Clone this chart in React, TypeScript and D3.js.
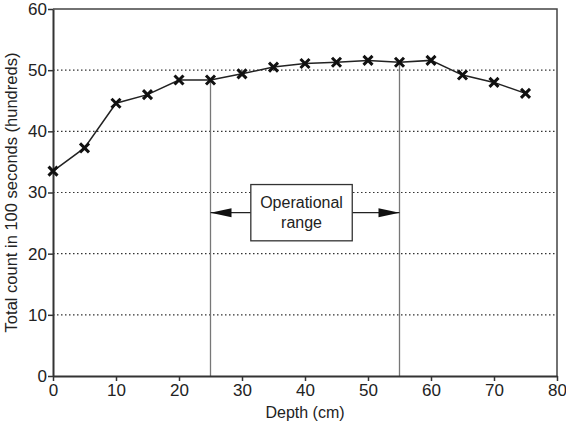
import React, { useRef, useEffect } from 'react';
import * as d3 from 'd3';

// depth (cm) vs total count in 100 s (hundreds)
const depths = [0, 5, 10, 15, 20, 25, 30, 35, 40, 45, 50, 55, 60, 65, 70, 75];
const counts = [33.5, 37.3, 44.6, 46.0, 48.4, 48.4, 49.4, 50.5, 51.1, 51.3, 51.6, 51.3, 51.6, 49.2, 48.0, 46.2];
const xTicks = [0, 10, 20, 30, 40, 50, 60, 70, 80];
const yTicks = [0, 10, 20, 30, 40, 50, 60];
const gridValues = [10, 20, 30, 40, 50];
const rangeBounds = [25, 55];
const rangeLabel = ['Operational', 'range'];
const arrowLevel = 26.7;
const boxX = [31.4, 47.5];
const boxY = [22.1, 31.3];

const W = 566;
const H = 424;

const App = () => {
  const ref = useRef<SVGSVGElement>(null);

  useEffect(() => {
    const svg = d3.select(ref.current);
    svg.selectAll('*').remove();

    const margin = { top: 9, right: 9, bottom: 48, left: 53 };
    const x = d3.scaleLinear().domain([0, 80]).range([margin.left, W - margin.right]);
    const y = d3.scaleLinear().domain([0, 60]).range([H - margin.bottom, margin.top]);
    const font = 'Liberation Sans, Arial, sans-serif';
    const narrow = 'Liberation Sans Narrow, Liberation Sans, Arial, sans-serif';

    // dotted grid
    svg.append('g')
      .selectAll('line')
      .data(gridValues)
      .join('line')
      .attr('x1', x(0)).attr('x2', x(80))
      .attr('y1', d => y(d)).attr('y2', d => y(d))
      .attr('stroke', '#333')
      .attr('stroke-width', 1.2)
      .attr('stroke-dasharray', '1.5,2.5');

    // frame top / right
    svg.append('path')
      .attr('d', `M${x(0)},${y(60)}H${x(80)}V${y(0)}`)
      .attr('fill', 'none')
      .attr('stroke', '#444')
      .attr('stroke-width', 1.5);

    // range verticals
    const valAt = (d: number) => counts[depths.indexOf(d)];
    svg.append('g')
      .selectAll('line')
      .data(rangeBounds)
      .join('line')
      .attr('x1', d => x(d)).attr('x2', d => x(d))
      .attr('y1', y(0)).attr('y2', d => y(valAt(d)))
      .attr('stroke', '#777')
      .attr('stroke-width', 1.3);

    // arrows
    const ay = y(arrowLevel);
    svg.append('line')
      .attr('x1', x(rangeBounds[0])).attr('x2', x(rangeBounds[1]))
      .attr('y1', ay).attr('y2', ay)
      .attr('stroke', '#222').attr('stroke-width', 1.3);
    const ah = 21, aw = 4.5;
    const l = x(rangeBounds[0]), r = x(rangeBounds[1]);
    svg.append('path')
      .attr('d', `M${l},${ay}L${l + ah},${ay - aw}L${l + ah},${ay + aw}Z`)
      .attr('fill', '#111');
    svg.append('path')
      .attr('d', `M${r},${ay}L${r - ah},${ay - aw}L${r - ah},${ay + aw}Z`)
      .attr('fill', '#111');

    // label box
    svg.append('rect')
      .attr('x', x(boxX[0])).attr('y', y(boxY[1]))
      .attr('width', x(boxX[1]) - x(boxX[0]))
      .attr('height', y(boxY[0]) - y(boxY[1]))
      .attr('fill', '#fff')
      .attr('stroke', '#333')
      .attr('stroke-width', 1.3);
    const cx = (x(boxX[0]) + x(boxX[1])) / 2;
    svg.append('g')
      .selectAll('text')
      .data(rangeLabel)
      .join('text')
      .attr('x', cx)
      .attr('y', (d, i) => y(boxY[1]) + 23 + i * 20)
      .attr('text-anchor', 'middle')
      .attr('font-family', font)
      .attr('font-size', 16)
      .attr('fill', '#222')
      .text(d => d);

    // axes
    const xAxis = svg.append('g')
      .attr('transform', `translate(0,${y(0)})`)
      .call(d3.axisBottom(x).tickValues(xTicks).tickSize(5).tickSizeOuter(0).tickPadding(3));
    const yAxis = svg.append('g')
      .attr('transform', `translate(${x(0)},0)`)
      .call(d3.axisLeft(y).tickValues(yTicks).tickSize(5).tickSizeOuter(0).tickPadding(1));
    [xAxis, yAxis].forEach(a => {
      a.select('.domain').attr('stroke', '#333').attr('stroke-width', 2);
      a.selectAll('.tick line').attr('stroke', '#333').attr('stroke-width', 1.5);
      a.selectAll('.tick text')
        .attr('font-family', narrow)
        .attr('font-size', 17)
        .attr('fill', '#222');
    });

    // series line + markers
    const pts = depths.map((d, i) => [d, counts[i]] as [number, number]);
    svg.append('path')
      .datum(pts)
      .attr('fill', 'none')
      .attr('stroke', '#222')
      .attr('stroke-width', 1.5)
      .attr('d', d3.line<[number, number]>().x(d => x(d[0])).y(d => y(d[1])));
    const s = 4.5;
    svg.append('g')
      .selectAll('path')
      .data(pts)
      .join('path')
      .attr('transform', d => `translate(${x(d[0])},${y(d[1])})`)
      .attr('d', `M${-s},${-s}L${s},${s}M${-s},${s}L${s},${-s}`)
      .attr('stroke', '#111')
      .attr('stroke-width', 3);

    // titles
    svg.append('text')
      .attr('x', (x(0) + x(80)) / 2)
      .attr('y', 418)
      .attr('text-anchor', 'middle')
      .attr('font-family', font)
      .attr('font-size', 16)
      .attr('fill', '#222')
      .text('Depth (cm)');
    svg.append('text')
      .attr('transform', `translate(17,${(y(0) + y(60)) / 2}) rotate(-90)`)
      .attr('text-anchor', 'middle')
      .attr('font-family', font)
      .attr('font-size', 16.5)
      .attr('fill', '#222')
      .text('Total count in 100 seconds (hundreds)');
  }, []);

  return (
    <svg ref={ref} width={W} height={H}
      style={{ position: 'absolute', left: 0, top: 0, background: '#fff' }} />
  );
};

export default App;
